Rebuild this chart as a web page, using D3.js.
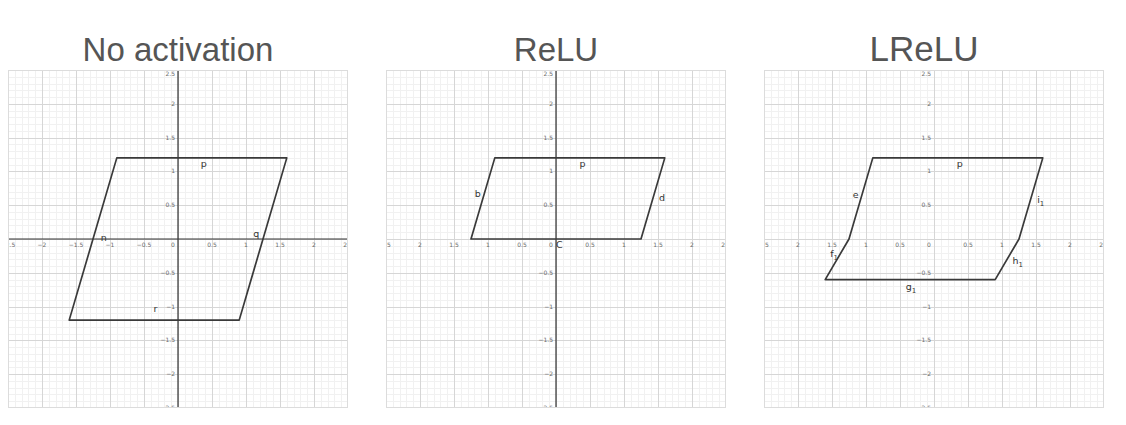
<!DOCTYPE html>
<html>
<head>
<meta charset="utf-8">
<script src="https://cdn.jsdelivr.net/npm/d3@7"></script>
<style>
  html, body { margin: 0; padding: 0; background: #fff; }
  svg { display: block; }
</style>
</head>
<body>
<svg id="chart" width="1126" height="425"></svg>
<script>
// ---------- data ----------
const panelTitles = ["No activation", "ReLU", "LReLU"];

// polygon vertices (x, y) in graph units
const shapeNoActivation = [[-0.9, 1.2], [1.6, 1.2], [0.9, -1.2], [-1.6, -1.2]];
const shapeReLU = [[-0.9, 1.2], [1.6, 1.2], [1.25, 0], [-1.25, 0]];
const shapeLReLU = [[-0.9, 1.2], [1.6, 1.2], [1.25, 0], [0.9, -0.6], [-1.6, -0.6], [-1.25, 0]];

// object labels: [name, subscript, x, y]
const labelsNoActivation = [["p", "", 0.38, 1.12], ["q", "", 1.15, 0.08], ["r", "", -0.33, -1.03], ["n", "", -1.09, 0.02]];
const labelsReLU = [["b", "", -1.15, 0.67], ["p", "", 0.39, 1.12], ["d", "", 1.56, 0.61], ["C", "", 0.05, -0.08]];
const labelsLReLU = [["e", "", -1.15, 0.66], ["p", "", 0.38, 1.11], ["i", "1", 1.57, 0.59], ["h", "1", 1.23, -0.32],
                     ["g", "1", -0.34, -0.71], ["f", "1", -1.47, -0.22]];

// axis ticks
const tickValues = [-2.5, -2, -1.5, -1, -0.5, 0, 0.5, 1, 1.5, 2, 2.5];
const xTickLabelsSigned = ["−2.5", "−2", "−1.5", "−1", "−0.5", "0", "0.5", "1", "1.5", "2", "2.5"];
const xTickLabelsUnsigned = ["2.5", "2", "1.5", "1", "0.5", "0", "0.5", "1", "1.5", "2", "2.5"];
const yTickLabels = ["−2.5", "−2", "−1.5", "−1", "−0.5", "0", "0.5", "1", "1.5", "2", "2.5"];
const domain = [-2.5, 2.5];

const panels = [
  { title: panelTitles[0], shape: shapeNoActivation, labels: labelsNoActivation, xLabels: xTickLabelsSigned, axisX: true, axisY: true, left: 8, titleX: 178, titleSize: 33 },
  { title: panelTitles[1], shape: shapeReLU, labels: labelsReLU, xLabels: xTickLabelsUnsigned, axisX: false, axisY: true, left: 386, titleX: 556, titleSize: 33 },
  { title: panelTitles[2], shape: shapeLReLU, labels: labelsLReLU, xLabels: xTickLabelsUnsigned, axisX: false, axisY: false, left: 764, titleX: 924, titleSize: 35 }
];

// ---------- drawing ----------
const svg = d3.select("#chart");
const W = 340, H = 338, TOP = 70;

panels.forEach((P, i) => {
  const x = d3.scaleLinear().domain(domain).range([P.left, P.left + W]);
  const y = d3.scaleLinear().domain(domain).range([TOP + H, TOP]);

  svg.append("text")
    .attr("x", P.titleX).attr("y", 61)
    .attr("text-anchor", "middle")
    .attr("font-family", "Liberation Sans, Arial, sans-serif")
    .attr("font-size", P.titleSize)
    .attr("fill", "#555")
    .text(P.title);

  const clipId = "clip" + i;
  svg.append("clipPath").attr("id", clipId)
    .append("rect").attr("x", P.left).attr("y", TOP).attr("width", W).attr("height", H);

  const g = svg.append("g").attr("clip-path", `url(#${clipId})`);

  // minor grid
  const minor = d3.range(-25, 26).map(k => k / 10);
  const gridMinor = g.append("g").attr("stroke", "#f1f1f1").attr("stroke-width", 1);
  minor.forEach(v => {
    if (Math.abs(v * 2 - Math.round(v * 2)) < 1e-6) return;
    gridMinor.append("line").attr("x1", Math.round(x(v)) + 0.5).attr("x2", Math.round(x(v)) + 0.5).attr("y1", TOP).attr("y2", TOP + H);
    gridMinor.append("line").attr("y1", Math.round(y(v)) + 0.5).attr("y2", Math.round(y(v)) + 0.5).attr("x1", P.left).attr("x2", P.left + W);
  });
  // major grid
  const gridMajor = g.append("g").attr("stroke", "#d6d6d6").attr("stroke-width", 1);
  tickValues.forEach(v => {
    gridMajor.append("line").attr("x1", Math.round(x(v)) + 0.5).attr("x2", Math.round(x(v)) + 0.5).attr("y1", TOP).attr("y2", TOP + H);
    gridMajor.append("line").attr("y1", Math.round(y(v)) + 0.5).attr("y2", Math.round(y(v)) + 0.5).attr("x1", P.left).attr("x2", P.left + W);
  });

  // axes
  const ax = g.append("g").attr("stroke", "#333").attr("stroke-width", 1.2);
  if (P.axisX) ax.append("line").attr("x1", P.left).attr("x2", P.left + W).attr("y1", y(0)).attr("y2", y(0));
  if (P.axisY) ax.append("line").attr("y1", TOP).attr("y2", TOP + H).attr("x1", x(0)).attr("x2", x(0));

  // tick labels
  const tl = g.append("g").attr("font-family", "DejaVu Sans, sans-serif").attr("font-size", 6).attr("fill", "#6a6a6a");
  tickValues.forEach((v, k) => {
    tl.append("text")
      .attr("x", v === 0 ? x(0) - 5 : x(v)).attr("y", y(0) + 7.5)
      .attr("text-anchor", "middle")
      .text(P.xLabels[k]);
    if (v !== 0) {
      tl.append("text")
        .attr("x", x(0) - 3).attr("y", v === 2.5 ? y(v) + 5.5 : y(v) + 2)
        .attr("text-anchor", "end")
        .text(yTickLabels[k]);
    }
  });

  // shape
  g.append("path")
    .datum(P.shape)
    .attr("d", d3.line().x(d => x(d[0])).y(d => y(d[1])).curve(d3.curveLinearClosed))
    .attr("fill", "none")
    .attr("stroke", "#3a3a3a")
    .attr("stroke-width", 1.7)
    .attr("stroke-linejoin", "round");

  // object labels
  P.labels.forEach(L => {
    const t = g.append("text")
      .attr("x", x(L[2])).attr("y", y(L[3]) + 3.5)
      .attr("text-anchor", "middle")
      .attr("font-family", "DejaVu Sans, sans-serif")
      .attr("font-size", 9.5)
      .attr("fill", "#333");
    t.append("tspan").text(L[0]);
    if (L[1]) t.append("tspan").attr("dy", 3).attr("font-size", 7).text(L[1]);
  });

  // frame
  svg.append("rect")
    .attr("x", P.left + 0.5).attr("y", TOP + 0.5).attr("width", W - 1).attr("height", H - 1)
    .attr("fill", "none").attr("stroke", "#dcdcdc");
});
</script>
</body>
</html>
